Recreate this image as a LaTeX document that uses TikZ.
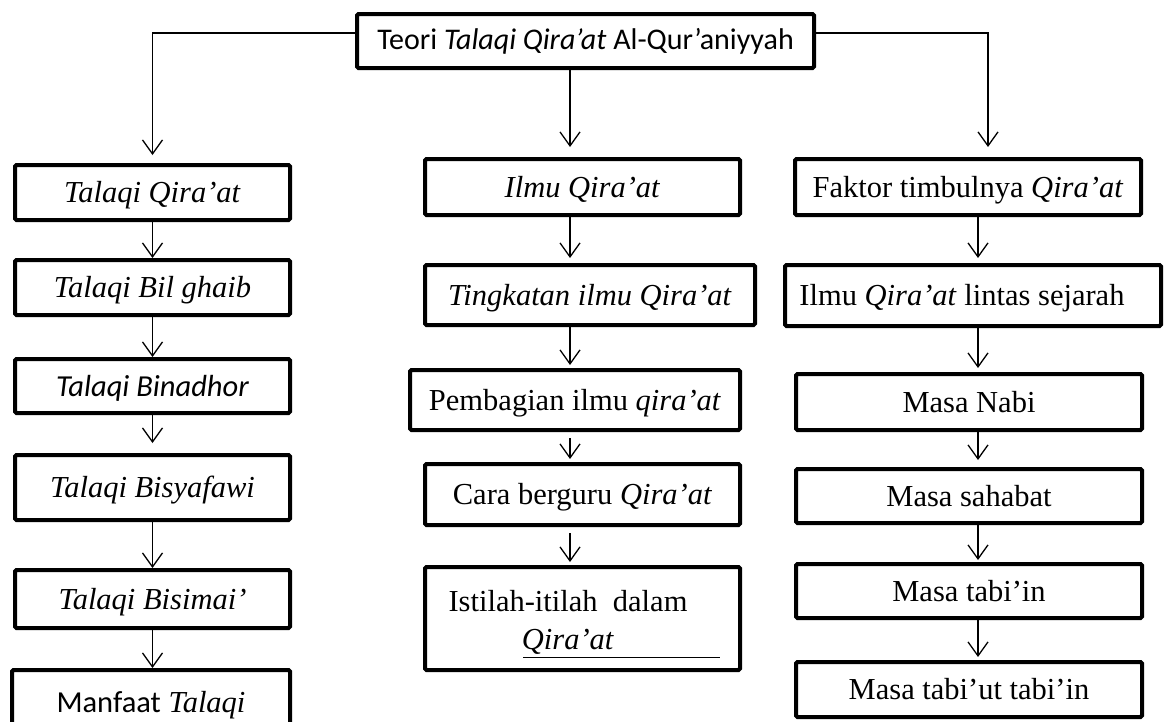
\documentclass[tikz,border=0pt]{standalone}
\usepackage{fontspec}
\setmainfont{Liberation Serif}
\newfontfamily\calibfont{Carlito}
\usetikzlibrary{arrows.meta}
\begin{document}
\begin{tikzpicture}[x=1pt,y=-1pt,
  box/.style={draw, line width=4pt, rounded corners=1.5pt, inner sep=0pt, align=center,
    text height=20pt, text depth=0pt, font=\fontsize{30.5}{38}\selectfont},
  arr/.style={-{Straight Barb[length=14pt,width=20pt]}, line width=1.3pt}]
\fill[white] (0,0) rectangle (1166,721);
\useasboundingbox (0,0) rectangle (1166,721);
\clip (0,0) rectangle (1166,721);

% top
\node[box, minimum width=457pt, minimum height=54pt, text height=16pt, font=\calibfont\fontsize{30}{38}\selectfont] (t) at (585.5,41) {Teori \textit{Talaqi Qira’at} Al-Qur’aniyyah};

% left column
\node[box, minimum width=275pt, minimum height=55pt] (l1) at (152.5,192.5) {\textit{Talaqi Qira’at}};
\node[box, minimum width=275pt, minimum height=55pt] (l2) at (152.5,287.5) {\textit{Talaqi Bil ghaib}};
\node[box, minimum width=275pt, minimum height=54pt] (l3) at (152.5,386) {\calibfont\itshape Talaqi Binadhor};
\node[box, minimum width=275pt, minimum height=65pt] (l4) at (152.5,487.5) {\textit{Talaqi Bisyafawi}};
\node[box, minimum width=275pt, minimum height=58pt] (l5) at (152.5,599) {\textit{Talaqi Bisimai’}};
\node[box, minimum width=278pt, minimum height=64pt] (l6) at (151,702) {{\calibfont Manfaat} \textit{Talaqi}};

% middle column
\node[box, minimum width=315pt, minimum height=56pt] (m1) at (582.5,187) {\textit{Ilmu Qira’at}};
\node[box, minimum width=330pt, minimum height=60pt] (m2) at (590,295) {\textit{Tingkatan ilmu Qira’at}};
\node[box, minimum width=330pt, minimum height=60pt] (m3) at (575,400) {Pembagian ilmu \textit{qira’at}};
\node[box, minimum width=315pt, minimum height=61pt] (m4) at (582.5,494.5) {Cara berguru \textit{Qira’at}};
\node[box, minimum width=315pt, minimum height=103pt] (m5) at (582.5,618.5) {};
\node[align=center, inner sep=0pt, font=\fontsize{30.5}{38}\selectfont] (m5t) at (568,622) {Istilah-itilah\ \ dalam\\\textit{Qira’at}};
\draw[line width=1pt] (523,657) -- (720,657);

% right column
\node[box, minimum width=346pt, minimum height=56pt] (r1) at (968,187) {Faktor timbulnya \textit{Qira’at}};
\node[box, minimum width=376pt, minimum height=61pt] (r2) at (973,295.5) {Ilmu \textit{Qira’at} lintas sejarah\hspace*{22pt}};
\node[box, minimum width=346pt, minimum height=56pt] (r3) at (969,402) {Masa Nabi};
\node[box, minimum width=346pt, minimum height=54pt] (r4) at (969,496) {Masa sahabat};
\node[box, minimum width=346pt, minimum height=54pt] (r5) at (969,591) {Masa tabi’in};
\node[box, minimum width=346pt, minimum height=55pt] (r6) at (969,689.5) {Masa tabi’ut tabi’in};

\coordinate (mx) at (570,0);
\coordinate (rx) at (978,0);

% top connectors
\draw[arr, shorten >=8pt] ([yshift=8pt]t.west) -| (l1.north);
\draw[arr, shorten >=10pt] ([xshift=-15.5pt]t.south) -- ([xshift=-15.5pt]t.south |- m1.north);
\draw[arr, shorten >=10pt] ([yshift=8pt]t.east) -| ([xshift=20pt]r1.north);

% left arrows
\draw[arr] (l1.south) -- (l2.north);
\draw[arr] (l2.south) -- (l3.north);
\draw[arr, shorten >=10pt] (l3.south) -- (l4.north);
\draw[arr] (l4.south) -- (l5.north);
\draw[arr] (l5.south) -- (l5.south |- l6.north);

% middle arrows
\draw[arr, shorten >=5pt] (m1.south -| mx) -- (m2.north -| mx);
\draw[arr, shorten >=3pt] (m2.south -| mx) -- (m3.north -| mx);
\draw[arr, shorten <=6pt, shorten >=3pt] (m3.south -| mx) -- (m4.north -| mx);
\draw[arr, shorten <=6pt, shorten >=3pt] (m4.south -| mx) -- (m5.north -| mx);

% right arrows
\draw[arr, shorten >=5pt] (r1.south -| rx) -- (r2.north -| rx);
\draw[arr, shorten >=4pt] (r2.south -| rx) -- (r3.north -| rx);
\draw[arr, shorten >=7pt] (r3.south -| rx) -- (r4.north -| rx);
\draw[arr, shorten >=2pt] (r4.south -| rx) -- (r5.north -| rx);
\draw[arr, shorten >=3pt] (r5.south -| rx) -- (r6.north -| rx);
\end{tikzpicture}
\end{document}
